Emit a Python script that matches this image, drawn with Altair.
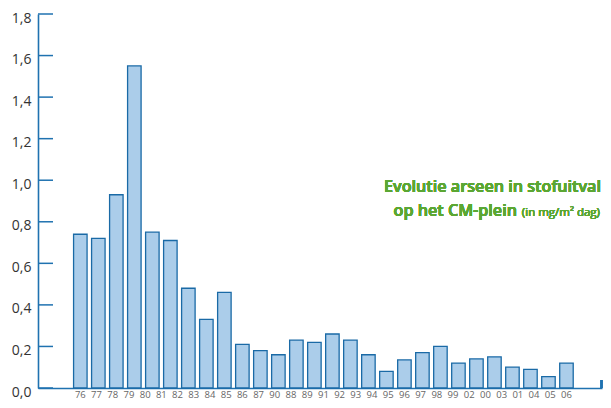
import altair as alt
import pandas as pd
import numpy as np

# Bar values (mg/m² dag), 28 bars as drawn
values = [0.74, 0.72, 0.93, 1.55, 0.75, 0.71, 0.48, 0.33, 0.46, 0.21,
          0.18, 0.16, 0.23, 0.22, 0.26, 0.23, 0.16, 0.08, 0.135, 0.17,
          0.20, 0.12, 0.14, 0.15, 0.10, 0.09, 0.055, 0.12]
# Year labels as printed under the axis (31 labels)
year_labels = ["76", "77", "78", "79", "80", "81", "82", "83", "84", "85", "86",
               "87", "90", "88", "89", "91", "92", "93", "94", "95", "96", "97",
               "98", "99", "02", "00", "03", "01", "04", "05", "06"]
y_ticks = [0.0, 0.2, 0.4, 0.6, 0.8, 1.0, 1.2, 1.4, 1.6, 1.8]

W, H = 564, 374
AXIS = "#1f72b0"
BAR_FILL = "#abcdea"
BAR_STROKE = "#1a6aa6"
GREEN = "#5ba733"
FONT = "Open Sans"

bars = pd.DataFrame({"i": list(range(len(values))), "v": values})
labels = pd.DataFrame({
    "pos": np.linspace(0, len(values) - 1, len(year_labels)),
    "t": year_labels,
})
ticks = pd.DataFrame({"v": y_ticks})

STEP = 18.33
x0 = -38 / STEP
xs = alt.Scale(domain=[x0, x0 + W / STEP], nice=False, zero=False)
ys = alt.Scale(domain=[0, 1.8], nice=False)

bar_layer = alt.Chart(bars).mark_bar(
    width=13.5, fill=BAR_FILL, stroke=BAR_STROKE, strokeWidth=1.3
).encode(
    x=alt.X("i:Q", scale=xs, axis=alt.Axis(labels=False, ticks=False, grid=False,
                                           domainColor=AXIS, domainWidth=1.6, title=None)),
    y=alt.Y("v:Q", scale=ys, axis=alt.Axis(values=y_ticks, ticks=False, grid=False,
                                           domainColor=AXIS, domainWidth=1.6, title=None,
                                           labelExpr="replace(format(datum.value, '.1f'), '.', ',')",
                                           labelFont=FONT, labelFontSize=14, labelColor="#333333",
                                           labelPadding=7, labelOffset=4)),
)

tick_layer = alt.Chart(ticks).mark_rule(color=AXIS, strokeWidth=1.5).encode(
    x=alt.value(0), x2=alt.value(15), y=alt.Y("v:Q", scale=ys)
)

end_tick = alt.Chart(ticks).mark_rule(color=AXIS, strokeWidth=1.5).encode(
    x=alt.value(W - 0.5), y=alt.value(H - 8), y2=alt.value(H)
)

label_layer = alt.Chart(labels).mark_text(
    font=FONT, fontSize=9.5, color="#666666", baseline="alphabetic"
).encode(
    x=alt.X("pos:Q", scale=xs), y=alt.value(H + 10), text="t:N"
)

title1 = alt.Chart(ticks).mark_text(
    font=FONT, fontSize=16.2, fontWeight=600, color=GREEN, align="right", baseline="alphabetic"
).encode(x=alt.value(W - 1), y=alt.value(178), text=alt.value("Evolutie arseen in stofuitval"))

title2 = alt.Chart(ticks).mark_text(
    font=FONT, fontSize=16.2, fontWeight=600, color=GREEN, align="right", baseline="alphabetic"
).encode(x=alt.value(479), y=alt.value(202), text=alt.value("op het CM-plein"))

title3 = alt.Chart(ticks).mark_text(
    font=FONT, fontSize=11.5, fontWeight="normal", color=GREEN, align="right", baseline="alphabetic"
).encode(x=alt.value(W - 2), y=alt.value(202), text=alt.value("(in mg/m² dag)"))

chart = alt.layer(bar_layer, tick_layer, end_tick, label_layer, title1, title2, title3).properties(
    width=W, height=H,
    autosize=alt.AutoSizeParams(type="none"),
    padding={"left": 30, "top": 6, "right": 1, "bottom": 12},
).configure_view(stroke=None)

chart.save("out.html", embed_options={"renderer": "svg", "actions": False})
